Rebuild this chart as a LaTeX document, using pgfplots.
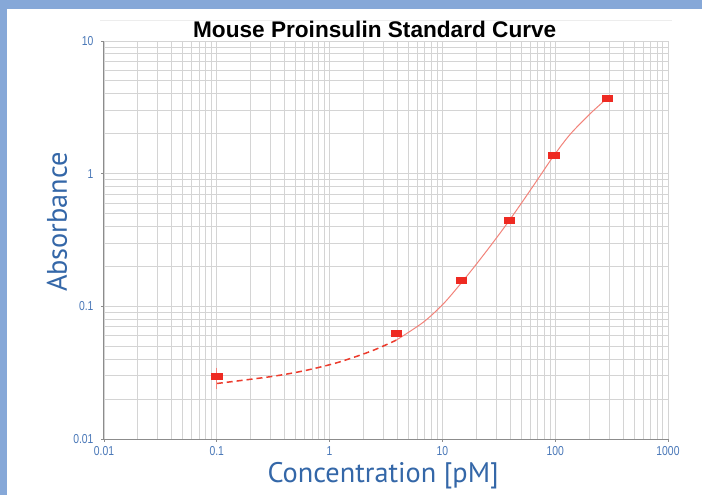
\documentclass[border=0pt]{standalone}
\usepackage{pgfplots}
\pgfplotsset{compat=1.18}
\usepackage{fontspec}
\setmainfont{Liberation Sans}
\newfontfamily\labelfont{PT Sans}
\definecolor{frameblue}{HTML}{86A8D8}
\definecolor{labelblue}{HTML}{3467A8}
\definecolor{tickblue}{HTML}{4A78B8}
\definecolor{gridgray}{HTML}{D4D4D4}
\definecolor{axisgray}{HTML}{8C8C8C}
\definecolor{markred}{HTML}{EE2A22}
\definecolor{curvered}{HTML}{F2837A}
\definecolor{dashred}{HTML}{EC3B2C}
\newcommand\nw[1]{\scalebox{0.8}[1]{#1}}
\begin{document}
\begin{tikzpicture}
\path[use as bounding box] (0,0) rectangle (702bp,495bp);
\fill[white] (0,0) rectangle (702bp,495bp);
\fill[frameblue] (0,486bp) rectangle (702bp,495bp);
\fill[frameblue] (0,0) rectangle (7bp,495bp);
\draw[black!7, line width=0.8bp] (100bp,475bp) -- (672bp,475bp);
\begin{axis}[
  at={(104bp,56bp)}, anchor=south west,
  scale only axis, width=564bp, height=398bp,
  xmode=log, ymode=log,
  xmin=0.01, xmax=1000, ymin=0.01, ymax=10,
  axis lines*=left,
  axis line style={axisgray, line width=1bp},
  grid=both,
  major grid style={gridgray, line width=0.9bp},
  minor grid style={gridgray, line width=0.9bp},
  xtick={0.01,0.1,1,10,100,1000},
  xticklabels={\nw{0.01},\nw{0.1},\nw{1},\nw{10},\nw{100},\nw{1000}},
  ytick={0.01,0.1,1,10},
  yticklabels={\nw{0.01},\nw{0.1},\nw{1},\nw{10}},
  minor xtick={0.02,0.03,0.04,0.05,0.06,0.07,0.08,0.09,0.2,0.3,0.4,0.5,0.6,0.7,0.8,0.9,2,3,4,5,6,7,8,9,20,30,40,50,60,70,80,90,200,300,400,500,600,700,800,900},
  minor ytick={0.02,0.03,0.04,0.05,0.06,0.07,0.08,0.09,0.2,0.3,0.4,0.5,0.6,0.7,0.8,0.9,2,3,4,5,6,7,8,9},
  tick align=outside,
  major tick length=3bp, minor tick length=0bp,
  tick style={axisgray, line width=0.8bp},
  xticklabel style={font=\fontsize{13}{13}\selectfont, text=tickblue, yshift=-1bp},
  yticklabel style={font=\fontsize{13}{13}\selectfont, text=tickblue, xshift=-4bp},
  title={Mouse Proinsulin Standard Curve},
  title style={font=\bfseries\fontsize{22.7}{22.7}\selectfont, at={(axis description cs:0.48,0.9937)}, anchor=base},
  xlabel={Concentration [pM]},
  xlabel style={font=\labelfont\fontsize{28.4}{28.4}\selectfont, text=labelblue, at={(axis description cs:0.495,-0.093)}, anchor=center},
  ylabel={Absorbance},
  ylabel style={font=\labelfont\fontsize{28.4}{28.4}\selectfont, text=labelblue, at={(axis description cs:-0.0833,0.545)}, anchor=center},
]
\addplot[dashred, line width=1.5bp, dash pattern=on 6bp off 4bp, smooth] coordinates {
(0.1,0.0262) (0.307,0.0296) (0.605,0.0328) (1.19,0.0378) (2.36,0.0461) (3.9,0.0556)
};
\addplot[curvered, line width=1bp, smooth] coordinates {
(3.9,0.0556) (6.77,0.0759) (10.2,0.1045) (14.6,0.149) (20.1,0.209) (28.3,0.305) (38.9,0.44) (55,0.671) (75,0.989) (96.2,1.35) (135,1.97) (204,2.83) (290,3.71)
};
\addplot[only marks, mark=square*, mark size=3bp,
  mark options={markred, draw=markred, fill=markred, xscale=1.7},
  error bars/.cd, y dir=both, y explicit,
  error bar style={curvered, line width=1bp},
  error mark options={curvered, mark size=5bp, line width=1bp}]
coordinates {
(0.1,0.0295) += (0,0.0022) -= (0,0.0033)
(3.88,0.0627)
(14.6,0.158)
(38.9,0.447)
(97,1.37)
(290,3.73)
};
\end{axis}
\end{tikzpicture}
\end{document}
